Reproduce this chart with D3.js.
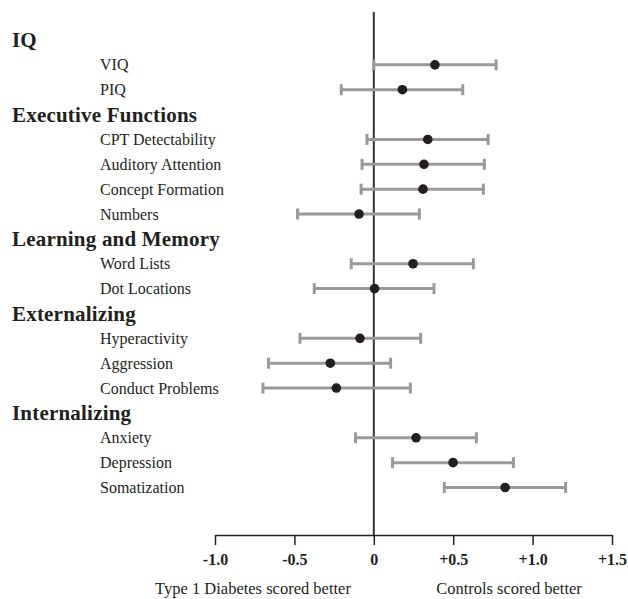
<!DOCTYPE html>
<html>
<head>
<meta charset="utf-8">
<script src="https://cdn.jsdelivr.net/npm/d3@7"></script>
<style>
  body { margin: 0; background: #fff; }
  text { font-family: "Liberation Serif", "Times New Roman", serif; }
</style>
</head>
<body>
<svg id="chart" width="628" height="599"></svg>
<script>
// rows top to bottom; group headers have no estimate
const rowLabels = ["IQ", "VIQ", "PIQ", "Executive Functions", "CPT Detectability", "Auditory Attention",
  "Concept Formation", "Numbers", "Learning and Memory", "Word Lists", "Dot Locations", "Externalizing",
  "Hyperactivity", "Aggression", "Conduct Problems", "Internalizing", "Anxiety", "Depression", "Somatization"];
const isHeader = [1, 0, 0, 1, 0, 0, 0, 0, 1, 0, 0, 1, 0, 0, 0, 1, 0, 0, 0];
const effect = [null, 0.385, 0.18, null, 0.34, 0.316, 0.31, -0.093, null, 0.247, 0.005, null, -0.087, -0.274, -0.236, null, 0.266, 0.499, 0.827];
const lower  = [null, 0.0, -0.205, null, -0.043, -0.074, -0.08, -0.48, null, -0.142, -0.375, null, -0.465, -0.663, -0.698, null, -0.115, 0.118, 0.444];
const upper  = [null, 0.77, 0.56, null, 0.72, 0.696, 0.69, 0.287, null, 0.627, 0.379, null, 0.295, 0.106, 0.23, null, 0.646, 0.879, 1.208];
const tickValues = [-1.0, -0.5, 0, 0.5, 1.0, 1.5];
const tickLabels = ["-1.0", "-0.5", "0", "+0.5", "+1.0", "+1.5"];
const sideLabels = ["Type 1 Diabetes scored better", "Controls scored better"];

const svg = d3.select("#chart");

const x = d3.scaleLinear().domain([-1.0, 1.5]).range([215, 612]);
const y = d3.scalePoint().domain(d3.range(rowLabels.length)).range([40, 487.5]);

const rows = rowLabels.map((l, i) => ({ label: l, header: isHeader[i], est: effect[i], lo: lower[i], hi: upper[i], i: i }));

// labels
svg.selectAll("text.row").data(rows).enter().append("text")
  .attr("class", "row")
  .attr("x", d => d.header ? 12 : 100)
  .attr("y", d => y(d.i))
  .attr("dy", "0.35em")
  .style("font-size", d => d.header ? "21px" : "16px")
  .style("letter-spacing", d => d.header ? "0.2px" : "0px")
  .style("font-weight", d => d.header ? "bold" : "normal")
  .attr("fill", "#231f20")
  .text(d => d.label);

// zero line
svg.append("line")
  .attr("x1", x(0)).attr("x2", x(0))
  .attr("y1", 12).attr("y2", 535)
  .attr("stroke", "#333").attr("stroke-width", 2);

const est = rows.filter(d => !d.header);
const bars = svg.selectAll("g.bar").data(est).enter().append("g").attr("class", "bar");

bars.append("line")
  .attr("x1", d => x(d.lo)).attr("x2", d => x(d.hi))
  .attr("y1", d => y(d.i)).attr("y2", d => y(d.i))
  .attr("stroke", "#9a9a9a").attr("stroke-width", 3);

["lo", "hi"].forEach(k => {
  bars.append("line")
    .attr("x1", d => x(d[k])).attr("x2", d => x(d[k]))
    .attr("y1", d => y(d.i) - 5.5).attr("y2", d => y(d.i) + 5.5)
    .attr("stroke", "#9a9a9a").attr("stroke-width", 3);
});

bars.append("circle")
  .attr("cx", d => x(d.est)).attr("cy", d => y(d.i))
  .attr("r", 4.8)
  .attr("fill", "#231f20");

// axis
const axis = d3.axisBottom(x)
  .tickValues(tickValues)
  .tickSize(10)
  .tickSizeOuter(0)
  .tickFormat((d, i) => tickLabels[i]);

const ax = svg.append("g").attr("transform", "translate(0,535)").call(axis);
ax.select(".domain").attr("stroke", "#231f20").attr("stroke-width", 1.5);
ax.selectAll(".tick line").attr("stroke", "#231f20").attr("stroke-width", 1.5);
ax.selectAll(".tick text")
  .attr("y", 19)
  .attr("fill", "#231f20")
  .style("font-family", "'Liberation Serif', 'Times New Roman', serif")
  .style("font-size", "16px")
  .style("font-weight", "bold");

svg.selectAll("text.side").data(sideLabels).enter().append("text")
  .attr("class", "side")
  .attr("x", (d, i) => i === 0 ? 253 : 509)
  .attr("y", 594)
  .attr("text-anchor", "middle")
  .style("font-size", "16.5px")
  .attr("fill", "#231f20")
  .text(d => d);
</script>
</body>
</html>
